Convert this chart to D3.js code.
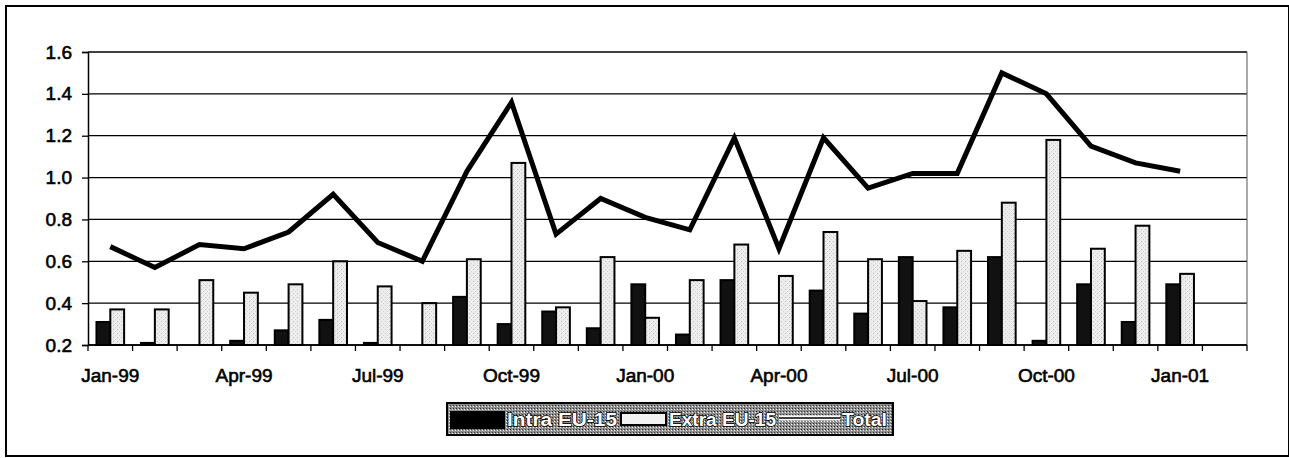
<!DOCTYPE html>
<html>
<head>
<meta charset="utf-8">
<script src="https://cdn.jsdelivr.net/npm/d3@7/dist/d3.min.js"></script>
<style>
  html, body { margin: 0; padding: 0; background: #fff; }
  svg { display: block; }
  text { font-family: "Liberation Sans", Arial, sans-serif; }
</style>
</head>
<body>
<svg id="chart" width="1289" height="458"></svg>
<script>
// ---- data ----
const months = ["Jan-99","Feb-99","Mar-99","Apr-99","May-99","Jun-99","Jul-99","Aug-99","Sep-99","Oct-99","Nov-99","Dec-99",
                "Jan-00","Feb-00","Mar-00","Apr-00","May-00","Jun-00","Jul-00","Aug-00","Sep-00","Oct-00","Nov-00","Dec-00",
                "Jan-01","Feb-01"];
const intraEU15 = [0.31, 0.21, null, 0.22, 0.27, 0.32, 0.21, null, 0.43, 0.30, 0.36, 0.28,
                   0.49, 0.25, 0.51, null, 0.46, 0.35, 0.62, 0.38, 0.62, 0.22, 0.49, 0.31, 0.49];
const extraEU15 = [0.37, 0.37, 0.51, 0.45, 0.49, 0.60, 0.48, 0.40, 0.61, 1.07, 0.38, 0.62,
                   0.33, 0.51, 0.68, 0.53, 0.74, 0.61, 0.41, 0.65, 0.88, 1.18, 0.66, 0.77, 0.54];
const total     = [0.67, 0.57, 0.68, 0.66, 0.74, 0.92, 0.69, 0.60, 1.03, 1.36, 0.73, 0.90,
                   0.81, 0.75, 1.19, 0.66, 1.19, 0.95, 1.02, 1.02, 1.50, 1.40, 1.15, 1.07, 1.03];
const tickLabels = ["Jan-99","Apr-99","Jul-99","Oct-99","Jan-00","Apr-00","Jul-00","Oct-00","Jan-01"];
const yTicks = [0.2, 0.4, 0.6, 0.8, 1.0, 1.2, 1.4, 1.6];
const seriesNames = ["Intra EU-15", "Extra EU-15", "Total"];

// ---- layout ----
const svg = d3.select("#chart");
const L = 88, R = 1247, T = 52, B = 345;

const x = d3.scaleBand().domain(months).range([L, R]).padding(0);
const xs = d3.scaleBand().domain(["intra", "extra"]).range([x.bandwidth() * 0.19, x.bandwidth() * 0.81]).padding(0);
const y = d3.scaleLinear().domain([0.2, 1.6]).range([B, T]);

// outer frame
svg.append("rect").attr("x", 6).attr("y", 6).attr("width", 1283).attr("height", 450)
  .attr("fill", "#fff").attr("stroke", "#000").attr("stroke-width", 2);

// patterns
const defs = svg.append("defs");
const pat = defs.append("pattern").attr("id", "stip").attr("width", 4).attr("height", 4)
  .attr("patternUnits", "userSpaceOnUse");
pat.append("rect").attr("width", 4).attr("height", 4).attr("fill", "#ececec");
pat.append("rect").attr("x", 1).attr("y", 1).attr("width", 1).attr("height", 1).attr("fill", "#c4c4c4");
pat.append("rect").attr("x", 3).attr("y", 3).attr("width", 1).attr("height", 1).attr("fill", "#d6d6d6");
const pat2 = defs.append("pattern").attr("id", "legbg").attr("width", 3).attr("height", 3)
  .attr("patternUnits", "userSpaceOnUse");
pat2.append("rect").attr("width", 3).attr("height", 3).attr("fill", "#8e8e8e");
pat2.append("rect").attr("x", 0).attr("y", 0).attr("width", 1).attr("height", 1).attr("fill", "#333");
pat2.append("rect").attr("x", 2).attr("y", 1).attr("width", 1).attr("height", 1).attr("fill", "#eee");

// gridlines
svg.append("g").selectAll("line").data(yTicks).join("line")
  .attr("x1", L).attr("x2", R).attr("y1", d => y(d)).attr("y2", d => y(d))
  .attr("stroke", "#000").attr("stroke-width", 1.3);

// right border of plot
svg.append("line").attr("x1", R).attr("x2", R).attr("y1", T).attr("y2", B)
  .attr("stroke", "#555").attr("stroke-width", 1);

// y axis
const yAxis = d3.axisLeft(y).tickValues(yTicks).tickFormat(d3.format(".1f")).tickSize(6).tickPadding(10);
const gy = svg.append("g").attr("transform", `translate(${L},0)`).call(yAxis);
gy.select(".domain").attr("stroke", "#000").attr("stroke-width", 1.5);
gy.selectAll(".tick line").attr("stroke", "#000").attr("stroke-width", 1.3);
gy.selectAll(".tick text").attr("font-size", 19).attr("fill", "#000")
  .attr("stroke", "#000").attr("stroke-width", 0.6).style("font-family", "Liberation Sans, Arial, sans-serif");

// x axis (ticks at category boundaries)
const boundaries = months.map(m => x(m)).concat([R]);
svg.append("line").attr("x1", L).attr("x2", R).attr("y1", B).attr("y2", B)
  .attr("stroke", "#000").attr("stroke-width", 1.5);
svg.append("g").selectAll("line").data(boundaries).join("line")
  .attr("x1", d => d).attr("x2", d => d).attr("y1", B).attr("y2", B + 6)
  .attr("stroke", "#000").attr("stroke-width", 1.3);
svg.append("g").selectAll("text").data(tickLabels).join("text")
  .attr("x", d => x(d) + x.bandwidth() / 2).attr("y", 382)
  .attr("text-anchor", "middle").attr("font-size", 19)
  .attr("fill", "#000").attr("stroke", "#000").attr("stroke-width", 0.6)
  .text(d => d);

// bars
const barData = [];
intraEU15.forEach((v, i) => { if (v != null) barData.push({ m: months[i], s: "intra", v }); });
extraEU15.forEach((v, i) => { if (v != null) barData.push({ m: months[i], s: "extra", v }); });
svg.append("g").selectAll("rect").data(barData).join("rect")
  .attr("x", d => x(d.m) + xs(d.s))
  .attr("y", d => y(d.v))
  .attr("width", xs.bandwidth())
  .attr("height", d => y(0.2) - y(d.v))
  .attr("fill", d => d.s === "intra" ? "#111" : "url(#stip)")
  .attr("stroke", "#000").attr("stroke-width", 2);

// total line
const line = d3.line()
  .x((d, i) => x(months[i]) + x.bandwidth() / 2)
  .y(d => y(d));
svg.append("path").datum(total).attr("d", line)
  .attr("fill", "none").attr("stroke", "#000").attr("stroke-width", 5)
  .attr("stroke-linejoin", "miter");

// legend
const lg = svg.append("g");
lg.append("rect").attr("x", 447).attr("y", 403).attr("width", 446).attr("height", 32)
  .attr("fill", "url(#legbg)").attr("stroke", "#000").attr("stroke-width", 2);
lg.append("rect").attr("x", 450).attr("y", 411).attr("width", 55).attr("height", 18)
  .attr("fill", "#000");
lg.append("rect").attr("x", 621).attr("y", 413).attr("width", 45).attr("height", 12)
  .attr("fill", "#f2f2f2").attr("stroke", "#000").attr("stroke-width", 2);
lg.append("line").attr("x1", 779).attr("x2", 840).attr("y1", 418).attr("y2", 418)
  .attr("stroke", "#fff").attr("stroke-width", 5);
lg.append("line").attr("x1", 779).attr("x2", 840).attr("y1", 418).attr("y2", 418)
  .attr("stroke", "#000").attr("stroke-width", 1.5);
const legText = [
  { t: seriesNames[0], x: 507, w: 110 },
  { t: seriesNames[1], x: 669, w: 107 },
  { t: seriesNames[2], x: 842, w: 45 }
];
lg.selectAll("text").data(legText).join("text")
  .attr("x", d => d.x).attr("y", 426)
  .attr("textLength", d => d.w).attr("lengthAdjust", "spacingAndGlyphs")
  .attr("font-size", 18).attr("font-weight", "bold")
  .attr("fill", "#fff").attr("stroke", "#000").attr("stroke-width", 1.4)
  .attr("paint-order", "stroke")
  .text(d => d.t);
</script>
</body>
</html>
